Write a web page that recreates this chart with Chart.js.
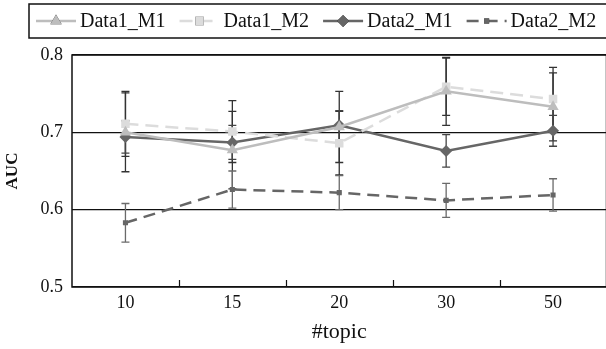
<!DOCTYPE html>
<html>
<head>
<meta charset="utf-8">
<script src="https://cdn.jsdelivr.net/npm/chart.js@4/dist/chart.umd.min.js"></script>
<style>
  html, body { margin: 0; padding: 0; background: #fff; overflow: hidden; }
  #wrap { width: 606px; height: 349px; overflow: hidden; }
  canvas { display: block; }
  .pre { font-family: "Liberation Serif"; position: absolute; left: -1000px; }
</style>
</head>
<body>
<span class="pre">Data 0.1 #topic</span><span class="pre" style="font-weight:bold">AUC</span>
<div id="wrap"><canvas id="c" width="613" height="349"></canvas></div>
<script>
// ---- data ----
const categories = ['10', '15', '20', '30', '50'];
const seriesNames = ['Data1_M1', 'Data1_M2', 'Data2_M1', 'Data2_M2'];
const data1M1 = [0.700, 0.677, 0.707, 0.753, 0.733];
const data1M2 = [0.711, 0.701, 0.686, 0.759, 0.743];
const data2M1 = [0.694, 0.687, 0.709, 0.676, 0.702];
const data2M2 = [0.583, 0.626, 0.622, 0.612, 0.619];
const err1M1 = [0.051, 0.050, 0.046, 0.044, 0.044];
const err1M2 = [0.042, 0.040, 0.041, 0.037, 0.041];
const err2M1 = [0.021, 0.022, 0.019, 0.021, 0.020];
const err2M2 = [0.025, 0.024, 0.022, 0.022, 0.021];
const yTicks = [0.5, 0.6, 0.7, 0.8];

const SERIF = '"Liberation Serif", "Times New Roman", Tinos, Times, serif';

const datasets = [
  { label: seriesNames[0], data: data1M1, errors: err1M1, errColor: '#333',
    borderColor: '#bdbdbd', backgroundColor: '#bdbdbd', borderWidth: 2.5,
    pointStyle: 'triangle', pointRadius: 6.5, borderDash: [] },
  { label: seriesNames[1], data: data1M2, errors: err1M2, errColor: '#333',
    borderColor: '#dcdcdc', backgroundColor: '#dcdcdc', borderWidth: 2.5,
    pointStyle: 'rect', pointRadius: 6, borderDash: [13, 7] },
  { label: seriesNames[2], data: data2M1, errors: err2M1, errColor: '#444',
    borderColor: '#666666', backgroundColor: '#666666', borderWidth: 2.5,
    pointStyle: 'rectRot', pointRadius: 6, borderDash: [] },
  { label: seriesNames[3], data: data2M2, errors: err2M2, errColor: '#6a6a6a',
    borderColor: '#666666', backgroundColor: '#666666', borderWidth: 2.5,
    pointStyle: 'rect', pointRadius: 3.6, borderDash: [12, 7] }
];
datasets.forEach(d => { d.pointBorderWidth = 0; d.pointHoverRadius = d.pointRadius; d.tension = 0; d.fill = false; d.pointBackgroundColor = d.backgroundColor; d.pointBorderColor = d.backgroundColor; });

const errorBars = {
  id: 'errorBars',
  beforeDatasetsDraw(chart) {
    const ctx = chart.ctx, x = chart.scales.x, y = chart.scales.y;
    ctx.save();
    chart.data.datasets.forEach(ds => {
      ctx.strokeStyle = ds.errColor; ctx.lineWidth = 1.3; ctx.setLineDash([]);
      ds.data.forEach((v, i) => {
        const px = x.getPixelForValue(i);
        const yt = y.getPixelForValue(v + ds.errors[i]);
        const yb = y.getPixelForValue(v - ds.errors[i]);
        ctx.beginPath();
        ctx.moveTo(px, yt); ctx.lineTo(px, yb);
        ctx.moveTo(px - 4, yt); ctx.lineTo(px + 4, yt);
        ctx.moveTo(px - 4, yb); ctx.lineTo(px + 4, yb);
        ctx.stroke();
      });
    });
    ctx.restore();
  }
};

const frame = {
  id: 'frame',
  afterDatasetsDraw(chart) {
    const ctx = chart.ctx, a = chart.chartArea, x = chart.scales.x;
    ctx.save();
    ctx.strokeStyle = '#111'; ctx.lineWidth = 1.5; ctx.setLineDash([]);
    ctx.strokeRect(a.left, a.top, a.right - a.left, a.bottom - a.top);
    ctx.lineWidth = 1.2;
    ctx.beginPath();
    for (let i = 0; i < categories.length - 1; i++) {
      const px = Math.round((x.getPixelForValue(i) + x.getPixelForValue(i + 1)) / 2) + 0.5;
      ctx.moveTo(px, a.bottom); ctx.lineTo(px, a.bottom - 7);
    }
    ctx.stroke();
    ctx.restore();
  }
};

const legendBox = {
  id: 'legendBox',
  afterDraw(chart) {
    const ctx = chart.ctx;
    ctx.save();
    ctx.strokeStyle = '#111'; ctx.lineWidth = 1.5; ctx.setLineDash([]);
    ctx.strokeRect(29, 4, 620, 34);
    ctx.font = '20px ' + SERIF;
    ctx.textBaseline = 'middle';
    ctx.fillStyle = '#111';
    let xPos = 36;
    const yMid = 21;
    chart.data.datasets.forEach(ds => {
      ctx.strokeStyle = ds.borderColor; ctx.lineWidth = ds.borderWidth;
      ctx.setLineDash(ds.borderDash || []);
      ctx.beginPath(); ctx.moveTo(xPos, yMid); ctx.lineTo(xPos + 40, yMid); ctx.stroke();
      ctx.setLineDash([]);
      Chart.helpers.drawPoint(ctx, { pointStyle: ds.pointStyle, radius: ds.pointRadius, borderWidth: 0 }, xPos + 20, yMid);
      ctx.fillStyle = ds.backgroundColor;
      ctx.fill();
      ctx.fillStyle = '#111';
      ctx.fillText(ds.label, xPos + 44, yMid + 1);
      xPos += 44 + ctx.measureText(ds.label).width + 14;
    });
    ctx.restore();
  }
};

function draw() {
  new Chart(document.getElementById('c'), {
    type: 'line',
    data: { labels: categories, datasets },
    plugins: [errorBars, frame, legendBox],
    options: {
      responsive: false,
      animation: false,
      events: [],
      layout: { padding: { top: 55, right: 1, left: 0, bottom: 0 } },
      plugins: { legend: { display: false }, tooltip: { enabled: false } },
      scales: {
        x: {
          type: 'category',
          offset: true,
          grid: { display: false, drawTicks: false, offset: true },
          border: { display: false },
          ticks: { color: '#111', font: { family: SERIF, size: 18 }, padding: 5 },
          title: { display: true, text: '#topic', color: '#111', font: { family: SERIF, size: 22 }, padding: { top: 0, bottom: 4 } },
          afterFit(s) { s.height = 62; }
        },
        y: {
          min: 0.5, max: 0.8,
          afterBuildTicks(s) { s.ticks = yTicks.map(v => ({ value: v })); },
          grid: { color: '#111', lineWidth: 1.2, drawTicks: false },
          border: { display: false },
          ticks: { color: '#111', font: { family: SERIF, size: 18 }, padding: 9,
                   callback: v => Number(v).toFixed(1) },
          title: { display: true, text: 'AUC', color: '#111', font: { family: SERIF, size: 17, weight: 'bold' }, padding: { top: 2, bottom: 0 } },
          afterFit(s) { s.width = 72; }
        }
      }
    }
  });
}
const loads = [document.fonts.load('18px "Liberation Serif"'), document.fonts.load('bold 17px "Liberation Serif"')];
Promise.all(loads).then(draw, draw);
</script>
</body>
</html>
